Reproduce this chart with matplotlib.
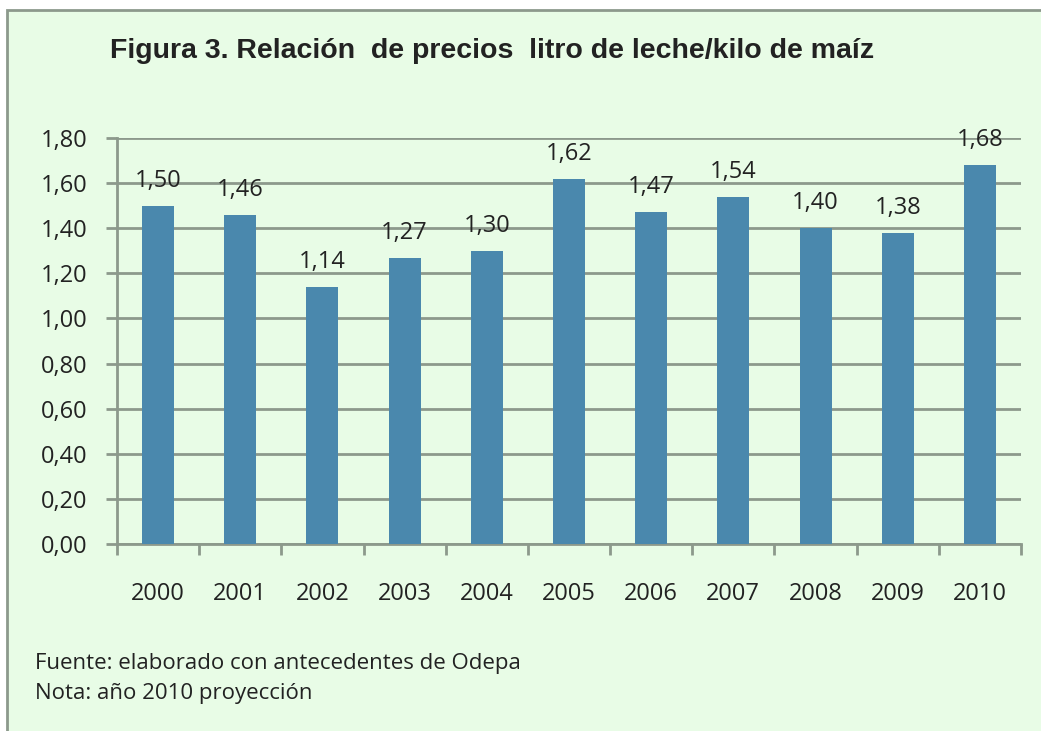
import matplotlib.pyplot as plt
from matplotlib.patches import Rectangle

# Datos de la figura
years = ['2000', '2001', '2002', '2003', '2004', '2005', '2006', '2007', '2008', '2009', '2010']
ratio = [1.50, 1.46, 1.14, 1.27, 1.30, 1.62, 1.47, 1.54, 1.40, 1.38, 1.68]
yticks = [0.0, 0.2, 0.4, 0.6, 0.8, 1.0, 1.2, 1.4, 1.6, 1.8]

bg = '#E8FCE6'
line_col = '#8C998C'
bar_col = '#4A88AD'
txt_font = ['Open Sans', 'DejaVu Sans']
fs = 17

fig = plt.figure(figsize=(10.41, 7.31), dpi=100, facecolor='white')

# Marco de fondo verde claro
fig.patches.append(Rectangle((7 / 1041, -0.01), 1.02, 1 - 10 / 731 + 0.01,
                             transform=fig.transFigure, facecolor=bg,
                             edgecolor=line_col, linewidth=2, zorder=-5))

ax = fig.add_axes([117 / 1041, 1 - 544 / 731, (1021 - 117) / 1041, (544 - 138) / 731])
ax.set_facecolor('none')
ax.set_zorder(2)

x = list(range(len(years)))
ax.bar(x, ratio, width=0.39, color=bar_col, zorder=3)

# etiquetas sobre cada barra
for xi, v in zip(x, ratio):
    ax.annotate(('%.2f' % v).replace('.', ','), (xi, v), xytext=(0, 18),
                textcoords='offset points', ha='center', va='center',
                fontsize=fs, family=txt_font, color='#222222', zorder=4)

ax.set_xlim(-0.5, len(years) - 0.5)
ax.set_ylim(0, 1.8)
ax.set_yticks(yticks)
ax.set_yticklabels([('%.2f' % t).replace('.', ',') for t in yticks],
                   fontsize=fs, family=txt_font, color='#222222')
ax.set_xticks(x)
ax.set_xticklabels(years, fontsize=fs, family=txt_font, color='#222222')
ax.set_xticks([i - 0.5 for i in range(len(years) + 1)], minor=True)

ax.tick_params(axis='x', which='major', length=0, pad=27)
ax.tick_params(axis='x', which='minor', length=8, width=2, color=line_col, direction='out')
ax.tick_params(axis='y', length=8, width=2, color=line_col, pad=13)

ax.grid(axis='y', color=line_col, linewidth=2, zorder=1)
for s in ['top', 'right']:
    ax.spines[s].set_visible(False)
for s in ['left', 'bottom']:
    ax.spines[s].set_color(line_col)
    ax.spines[s].set_linewidth(2)
    ax.spines[s].set_zorder(2)

fig.text(110 / 1041, 1 - 51 / 731, 'Figura 3. Relación  de precios  litro de leche/kilo de maíz',
         fontsize=20.5, fontweight='bold', family=['Liberation Sans', 'DejaVu Sans'],
         color='#222222', va='center', ha='left')

fig.text(35 / 1041, 1 - 663 / 731, 'Fuente: elaborado con antecedentes de Odepa',
         fontsize=16, family=txt_font, color='#222222', va='center')
fig.text(35 / 1041, 1 - 694 / 731, 'Nota: año 2010 proyección',
         fontsize=16, family=txt_font, color='#222222', va='center')

plt.savefig('out.png', dpi=100, facecolor=fig.get_facecolor())
plt.close()
